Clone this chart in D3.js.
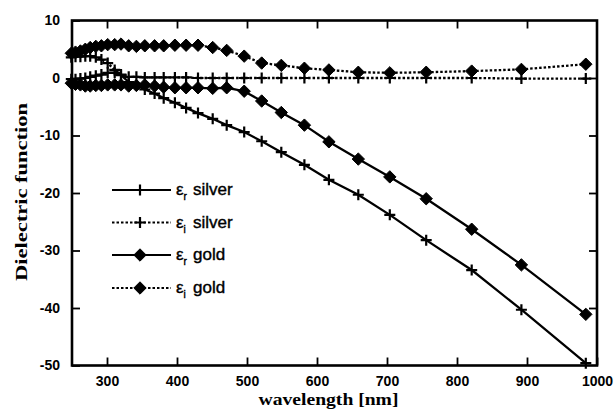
<!DOCTYPE html>
<html>
<head>
<meta charset="utf-8">
<script src="https://cdn.jsdelivr.net/npm/d3@7"></script>
<style>
  html, body { margin: 0; padding: 0; background: #fff; }
  svg { display: block; }
</style>
</head>
<body>
<svg id="chart" width="614" height="413"></svg>
<script>
// Wavelengths of the optical-constant samples (nm)
const wavelengths = [249, 255, 262, 269, 276, 284, 292, 301, 311, 320, 331, 342, 354, 368, 381, 397,
                     413, 430, 451, 471, 496, 521, 549, 582, 617, 659, 704, 756, 821, 892, 984];

// Real and imaginary parts of the dielectric function
const silverEpsR = [-0.2, -0.2, -0.1, 0.0, 0.2, 0.4, 0.6, 0.9, 0.9, 0.5, -0.7, -1.3, -2.0, -2.7, -3.5, -4.3,
                    -5.2, -6.1, -7.1, -8.2, -9.4, -11.0, -12.9, -15.1, -17.7, -20.3, -23.8, -28.2, -33.4, -40.3, -49.6];
const silverEpsI = [3.6, 3.7, 3.7, 3.8, 3.8, 3.6, 3.2, 2.6, 1.4, 0.6, 0.2, 0.2, 0.1, 0.1, 0.1, 0.1,
                    0.1, 0.0, 0.0, 0.0, 0.0, 0.0, 0.0, 0.0, 0.0, 0.0, 0.0, 0.0, 0.0, -0.1, -0.1];
const goldEpsR   = [-0.9, -1.1, -1.2, -1.4, -1.4, -1.3, -1.3, -1.2, -1.2, -1.2, -1.4, -1.3, -1.2, -1.4, -1.6, -1.7,
                    -1.7, -1.7, -1.8, -1.7, -2.3, -4.0, -6.0, -8.2, -11.1, -14.1, -17.2, -21.0, -26.3, -32.5, -41.1];
const goldEpsI   = [4.3, 4.5, 4.7, 5.0, 5.3, 5.5, 5.6, 5.8, 5.8, 5.9, 5.6, 5.5, 5.6, 5.6, 5.6, 5.7,
                    5.7, 5.7, 5.3, 4.8, 3.8, 2.6, 2.2, 1.7, 1.4, 1.0, 0.9, 1.0, 1.2, 1.5, 2.4];

// Axis ticks and labels
const xTicks = [300, 400, 500, 600, 700, 800, 900, 1000];
const yTicks = [10, 0, -10, -20, -30, -40, -50];
const xTitle = "wavelength [nm]";
const yTitle = "Dielectric function";

// Legend: epsilon subscript, material name
const seriesSub  = ["r", "i", "r", "i"];
const seriesName = ["silver", "silver", "gold", "gold"];

const series = [
  { values: silverEpsR, dotted: false, marker: "plus" },
  { values: silverEpsI, dotted: true,  marker: "plus" },
  { values: goldEpsR,   dotted: false, marker: "diamond" },
  { values: goldEpsI,   dotted: true,  marker: "diamond" }
];

const svg = d3.select("#chart");
const plotLeft = 72, plotRight = 597, plotTop = 20.5, plotBottom = 365.5;

const x = d3.scaleLinear().domain([250, 1000]).range([plotLeft, plotRight]);
const y = d3.scaleLinear().domain([-50, 10]).range([plotBottom, plotTop]);

const ink = "#000";
const tickFont = "'Liberation Sans', Arial, Helvetica, sans-serif";
const titleFont = "'Liberation Serif', 'Times New Roman', serif";

// Axes: labels on bottom/left, inward ticks on all four sides
const gx = svg.append("g").attr("transform", `translate(0,${plotBottom})`)
  .call(d3.axisBottom(x).tickValues(xTicks).tickSize(-8).tickPadding(11).tickFormat(d => String(d)));
const gy = svg.append("g").attr("transform", `translate(${plotLeft},0)`)
  .call(d3.axisLeft(y).tickValues(yTicks).tickSize(-8).tickPadding(12).tickFormat(d => String(d)));
const gxt = svg.append("g").attr("transform", `translate(0,${plotTop})`)
  .call(d3.axisTop(x).tickValues(xTicks.slice(0, -1)).tickSize(-8).tickFormat(""));
const gyr = svg.append("g").attr("transform", `translate(${plotRight},0)`)
  .call(d3.axisRight(y).tickValues(yTicks.slice(1, -1)).tickSize(-8).tickFormat(""));

[gx, gy, gxt, gyr].forEach(g => {
  g.select(".domain").remove();
  g.selectAll(".tick line").attr("stroke", ink).attr("stroke-width", 1.8);
  g.selectAll("text").attr("fill", ink)
    .style("font-family", tickFont).style("font-size", "14px").style("font-weight", "bold");
});

// Frame
svg.append("rect")
  .attr("x", plotLeft).attr("y", plotTop)
  .attr("width", plotRight - plotLeft).attr("height", plotBottom - plotTop)
  .attr("fill", "none").attr("stroke", ink).attr("stroke-width", 2.6);

// Axis titles
svg.append("text")
  .attr("x", (plotLeft + plotRight) / 2 - 6).attr("y", 405)
  .attr("text-anchor", "middle")
  .attr("textLength", 140).attr("lengthAdjust", "spacingAndGlyphs")
  .style("font-family", titleFont).style("font-size", "16px").style("font-weight", "bold")
  .attr("fill", ink).text(xTitle);

svg.append("text")
  .attr("transform", "translate(27,192) rotate(-90)")
  .attr("text-anchor", "middle")
  .attr("textLength", 178).attr("lengthAdjust", "spacingAndGlyphs")
  .style("font-family", titleFont).style("font-size", "17px").style("font-weight", "bold")
  .attr("fill", ink).text(yTitle);

// Marker shapes
const plusPath = r => `M${-r},0H${r}M0,${-r}V${r}`;
const diamondPath = r => `M0,${-r}L${r},0L0,${r}L${-r},0Z`;

function drawMarker(g, kind, cx, cy) {
  if (kind === "plus") {
    g.append("path").attr("d", plusPath(5.5))
      .attr("transform", `translate(${cx},${cy})`)
      .attr("stroke", ink).attr("stroke-width", 2.2).attr("fill", "none");
  } else {
    g.append("path").attr("d", diamondPath(6.2))
      .attr("transform", `translate(${cx},${cy})`)
      .attr("fill", ink).attr("stroke", ink).attr("stroke-width", 1);
  }
}

const line = d3.line().x(d => x(d[0])).y(d => y(d[1]));
const plot = svg.append("g");

series.forEach(s => {
  const pts = wavelengths.map((w, i) => [w, s.values[i]]);
  plot.append("path").datum(pts)
    .attr("d", line)
    .attr("fill", "none").attr("stroke", ink).attr("stroke-width", 2.3)
    .attr("stroke-dasharray", s.dotted ? "2.5,2" : null);
  const mg = plot.append("g");
  pts.forEach(p => drawMarker(mg, s.marker, x(p[0]), y(p[1])));
});

// Legend
const legend = svg.append("g");
const rowY = [190, 222.5, 255, 288];
series.forEach((s, i) => {
  const ry = rowY[i];
  legend.append("line")
    .attr("x1", 112).attr("x2", 171).attr("y1", ry).attr("y2", ry)
    .attr("stroke", ink).attr("stroke-width", 2)
    .attr("stroke-dasharray", s.dotted ? "2.5,2" : null);
  drawMarker(legend, s.marker, 140, ry);
  const t = legend.append("text")
    .attr("x", 176).attr("y", ry + 5)
    .style("font-family", tickFont).style("font-size", "17px")
    .attr("fill", ink).attr("stroke", ink).attr("stroke-width", 0.4);
  t.append("tspan").text("ε");
  t.append("tspan").attr("dy", 5).style("font-size", "10px").text(seriesSub[i]);
  t.append("tspan").attr("x", 193).attr("dy", -5).text(seriesName[i]);
});
</script>
</body>
</html>
